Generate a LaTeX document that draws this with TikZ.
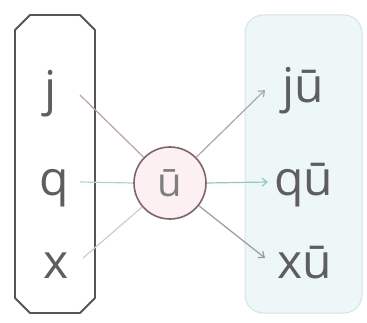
\documentclass[tikz,border=0pt]{standalone}
\usepackage{fontspec}
\setmainfont{Open Sans}
\usetikzlibrary{arrows.meta}
\definecolor{txt}{HTML}{5E5E5E}
\definecolor{lboxc}{HTML}{555555}
\definecolor{rfill}{HTML}{EEF7F8}
\definecolor{rdraw}{HTML}{D6E4E6}
\definecolor{cdraw}{HTML}{7E6468}
\definecolor{cfill}{HTML}{FCF0F3}
\definecolor{lnj}{HTML}{B4A4A6}
\definecolor{lnq}{HTML}{A9D6CE}
\definecolor{lnx}{HTML}{D8C8CA}
\definecolor{arj}{HTML}{A8A8A8}
\definecolor{arq}{HTML}{8FC9C0}
\definecolor{arx}{HTML}{9A9A9A}
\tikzset{
  letter/.style={font=\fontsize{48}{48}\selectfont, text=txt, inner sep=0pt, anchor=base},
  syl/.style={font=\fontsize{48}{48}\selectfont, text=txt, inner sep=0pt, anchor=base},
  link/.style={line width=1.2pt},
  arr/.style={line width=1.2pt, -{Straight Barb[length=5pt,width=8pt]}}
}
\begin{document}
\begin{tikzpicture}[x=1pt,y=1pt]
\useasboundingbox (0,0) rectangle (367,322);
% left box (chamfered)
\draw[draw=lboxc, line width=1.8pt, line join=round]
  (30,307) -- (80,307) -- (95,292) -- (95,24) -- (80,9) -- (30,9) -- (15,24) -- (15,292) -- cycle;
% right box
\node[draw=rdraw, fill=rfill, line width=1pt, rounded corners=18pt,
  minimum width=117pt, minimum height=298pt, inner sep=0pt] (rbox) at (303.5,158) {};
% circle
\node[circle, draw=cdraw, fill=cfill, line width=1.6pt, minimum size=72pt, inner sep=0pt,
  font=\fontsize{40}{40}\selectfont, text=txt!80] (u) at (170,139) {ū};
% left letters
\node[letter] (j) at (51,216) {j};
\node[letter] (q) at (54,127) {q};
\node[letter] (x) at (56,44) {x};
% right syllables
\node[syl] (ju) at (303,219) {jū};
\node[syl] (qu) at (304,127) {qū};
\node[syl] (xu) at (305,44) {xū};
% link endpoints
\coordinate (jl) at (80,227);
\coordinate (ql) at (80,140);
\coordinate (xl) at (83,64);
\coordinate (jr) at (265,232);
\coordinate (qr) at (268,140);
\coordinate (xr) at (265,64);
\draw[link, lnj] (jl) -- (u);
\draw[link, lnq] (ql) -- (u.west);
\draw[link, lnx] (xl) -- (u);
\draw[arr, arj] (u) -- (jr);
\draw[arr, arq] (u.east) -- (qr);
\draw[arr, arx] (u) -- (xr);
\end{tikzpicture}
\end{document}
